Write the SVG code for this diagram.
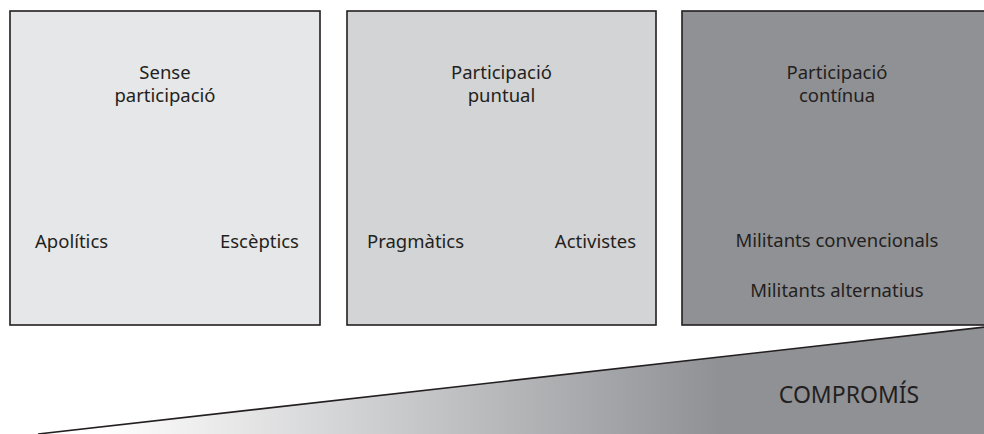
<svg xmlns="http://www.w3.org/2000/svg" width="984" height="434" viewBox="0 0 984 434">
<style>
.box{stroke:#231f20;stroke-width:1.6}
.t{font-family:"Noto Sans","Open Sans",sans-serif;font-size:18.5px;fill:#231f20}
.c{text-anchor:middle}
.e{text-anchor:end}
</style>
<defs>
<linearGradient id="g" gradientUnits="userSpaceOnUse" x1="100" y1="0" x2="720" y2="0">
<stop offset="0" stop-color="#ffffff"/>
<stop offset="1" stop-color="#909195"/>
</linearGradient>
</defs>
<rect width="984" height="434" fill="#ffffff"/>
<g id="wedge">
<polygon points="38,434 990,326.5 990,440" fill="url(#g)"/>
<line x1="38" y1="434" x2="990" y2="326.5" stroke="#231f20" stroke-width="1.6"/>
<text class="t c" x="849" y="403" style="font-size:23px">COMPROMÍS</text>
</g>
<g id="sense">
<rect class="box" x="10" y="11" width="310" height="314" fill="#e6e7e8"/>
<text class="t c" x="165" y="79">Sense</text>
<text class="t c" x="165" y="102">participació</text>
<text class="t" x="35" y="248">Apolítics</text>
<text class="t e" x="299" y="248">Escèptics</text>
</g>
<g id="puntual">
<rect class="box" x="347" y="11" width="309" height="314" fill="#d3d4d6"/>
<text class="t c" x="501.5" y="79">Participació</text>
<text class="t c" x="501.5" y="102">puntual</text>
<text class="t" x="367" y="248">Pragmàtics</text>
<text class="t e" x="636" y="248">Activistes</text>
</g>
<g id="continua">
<rect class="box" x="682" y="11" width="320" height="314" fill="#909195"/>
<text class="t c" x="837" y="79">Participació</text>
<text class="t c" x="837" y="102">contínua</text>
<text class="t c" x="837" y="247">Militants convencionals</text>
<text class="t c" x="837" y="297">Militants alternatius</text>
</g>
<g id="connectors"></g>
</svg>
